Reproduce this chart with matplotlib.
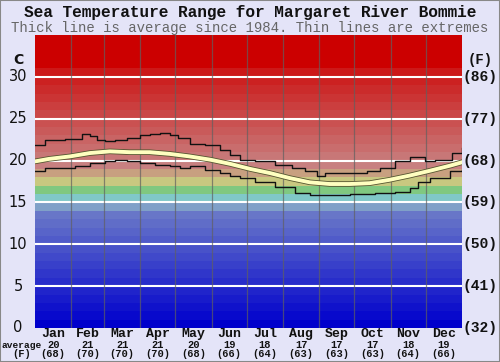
import matplotlib
matplotlib.use("Agg")
import matplotlib.pyplot as plt
import matplotlib.patheffects as pe
import numpy as np

title = "Sea Temperature Range for Margaret River Bommie"
subtitle = "Thick line is average since 1984. Thin lines are extremes"
months = ["Jan", "Feb", "Mar", "Apr", "May", "Jun", "Jul", "Aug", "Sep", "Oct", "Nov", "Dec"]
month_avg_c = [20, 21, 21, 21, 20, 19, 18, 17, 17, 17, 18, 19]
month_avg_f = [68, 70, 70, 70, 68, 66, 64, 63, 63, 63, 64, 66]
c_ticks = [0, 5, 10, 15, 20, 25, 30]
f_ticks = ["(32)", "(41)", "(50)", "(59)", "(68)", "(77)", "(86)"]

# max extreme (day of year, deg C), step line
max_days = [0, 8.5, 12.8, 19.7, 25.6, 34.2, 40.2, 47, 53, 59.9, 68.4, 78.7, 89.8, 98.3, 106.9,
            115.4, 122.3, 132.5, 145.4, 158.2, 166.7, 175.3, 188.1, 196.7, 205.2, 219.7, 230.9,
            241.1, 248, 269.3, 283.9, 295, 307.8, 320.6, 333.5, 342, 356.5, 365]
max_vals = [21.9, 22.4, 22.5, 22.5, 22.6, 22.6, 23.2, 22.9, 22.4, 22.3, 22.5, 22.7, 23.0, 23.2, 23.3,
            23.1, 22.7, 22.0, 21.9, 21.3, 20.7, 20.1, 19.9, 20.0, 19.5, 19.1, 18.7,
            18.1, 18.5, 18.5, 18.7, 19.1, 19.9, 20.4, 19.9, 20.1, 20.9, 21.5]

# min extreme
min_days = [0, 8.5, 21.4, 34.2, 47, 59.9, 68.4, 78.7, 89.8, 102.6, 115.4, 124, 132.5, 145.4,
            158.2, 166.7, 175.3, 188.1, 205.2, 222.3, 235.1, 252.2, 269.3, 290.7, 307.8,
            320.6, 327.4, 337.7, 354.8, 365]
min_vals = [18.7, 19.1, 19.1, 19.3, 19.75, 19.9, 20.1, 19.9, 19.7, 19.5, 19.3, 19.1, 19.3, 18.9,
            18.5, 18.2, 17.9, 17.5, 16.9, 16.1, 15.9, 15.9, 16.0, 16.1, 16.2,
            16.7, 17.5, 17.9, 18.7, 18.9]

# average
avg_days = [0, 12, 30, 47, 64, 81, 98, 115, 132, 150, 167, 184, 201, 218, 235, 252, 269,
            286, 303, 320, 338, 355, 365]
avg_vals = [19.9, 20.2, 20.5, 20.9, 21.1, 21.0, 21.0, 20.8, 20.5, 20.1, 19.6, 19.0, 18.5,
            17.9, 17.4, 17.2, 17.2, 17.3, 17.7, 18.2, 18.8, 19.4, 19.8]

month_len = [31, 28, 31, 30, 31, 30, 31, 31, 30, 31, 30, 31]


def band_color(i):
    if i <= 13:
        t = i / 13.0
        return tuple(np.array([0, 0, 204]) * (1 - t) / 255 + np.array([104, 118, 200]) * t / 255)
    fixed = {14: (128, 160, 200), 15: (128, 200, 200), 16: (128, 200, 128),
             17: (200, 200, 128), 18: (200, 160, 128)}
    if i in fixed:
        return tuple(v / 255 for v in fixed[i])
    if i <= 30:
        t = (i - 19) / 11.0
        return tuple(np.array([200, 128, 128]) * (1 - t) / 255 + np.array([204, 24, 24]) * t / 255)
    return (204 / 255, 0, 0)


bg = "#e4e4f8"
fig = plt.figure(figsize=(5, 3.62), dpi=100, facecolor=bg)
ax = fig.add_axes([35 / 500, 34 / 362, 427 / 500, 293 / 362])
ax.set_xlim(0, 365)
ax.set_ylim(0, 35)

for i in range(35):
    ax.axhspan(i, i + 1, color=band_color(i), lw=0, zorder=0)

for c in c_ticks[1:]:
    ax.axhline(c, color="white", lw=1.5, zorder=1)

bounds = np.cumsum(month_len)[:-1]
for b in bounds:
    ax.axvline(b, color="#606060", lw=0.9, zorder=1, alpha=0.7)

ax.plot(max_days, max_vals, drawstyle="steps-post", color="#111111", lw=1.0, zorder=3)
ax.plot(min_days, min_vals, drawstyle="steps-post", color="#111111", lw=1.0, zorder=3)
ax.plot(avg_days, avg_vals, color="#ffffc0", lw=2.8, zorder=4,
        path_effects=[pe.Stroke(linewidth=4.0, foreground="#555530"), pe.Normal()])

ax.set_xticks([])
ax.set_yticks([])
for s in ax.spines.values():
    s.set_visible(False)

mono = "Liberation Mono"
fig.text(0.5, 1 - 13 / 362, title, ha="center", va="center", family=mono,
         fontweight="bold", fontsize=11.6, color="#111111")
fig.text(0.5, 1 - 28 / 362, subtitle, ha="center", va="center", family=mono,
         fontsize=10.1, color="#666666")

# left / right labels
fig.text(18 / 500, 1 - 60 / 362, "C", ha="center", va="center", family="DejaVu Sans",
         fontsize=10, fontweight="bold", color="#111111")
fig.text(480 / 500, 1 - 60 / 362, "(F)", ha="center", va="center", family=mono,
         fontsize=10, fontweight="bold", color="#111111")
for c, f in zip(c_ticks, f_ticks):
    y = ax.transData.transform((0, c))[1] / fig.bbox.height
    fig.text(18 / 500, y, str(c), ha="center", va="center", family="DejaVu Sans",
             fontsize=10.5, color="#111111")
    fig.text(480 / 500, y, f, ha="center", va="center", family=mono,
             fontsize=10.5, fontweight="bold", color="#111111")

mid = np.cumsum([0] + month_len[:-1]) + np.array(month_len) / 2
for m, x, c, f in zip(months, mid, month_avg_c, month_avg_f):
    xf = ax.transData.transform((x, 0))[0] / fig.bbox.width
    fig.text(xf, 1 - 334 / 362, m, ha="center", va="center", family=mono,
             fontsize=9.5, fontweight="bold", color="#111111")
    fig.text(xf, 1 - 345 / 362, str(c), ha="center", va="center", family=mono,
             fontsize=7.5, fontweight="bold", color="#111111")
    fig.text(xf, 1 - 354 / 362, "(%d)" % f, ha="center", va="center", family=mono,
             fontsize=7.5, fontweight="bold", color="#111111")
fig.text(22 / 500, 1 - 345 / 362, "average", ha="center", va="center", family=mono,
         fontsize=6.8, fontweight="bold", color="#111111")
fig.text(22 / 500, 1 - 354 / 362, "(F)", ha="center", va="center", family=mono,
         fontsize=7.5, fontweight="bold", color="#111111")

# figure border
fig.patches.append(plt.Rectangle((0, 0), 1, 1, transform=fig.transFigure, fill=False,
                                 edgecolor="#888888", lw=1.5))

fig.savefig("out.png", dpi=100, facecolor=bg)
